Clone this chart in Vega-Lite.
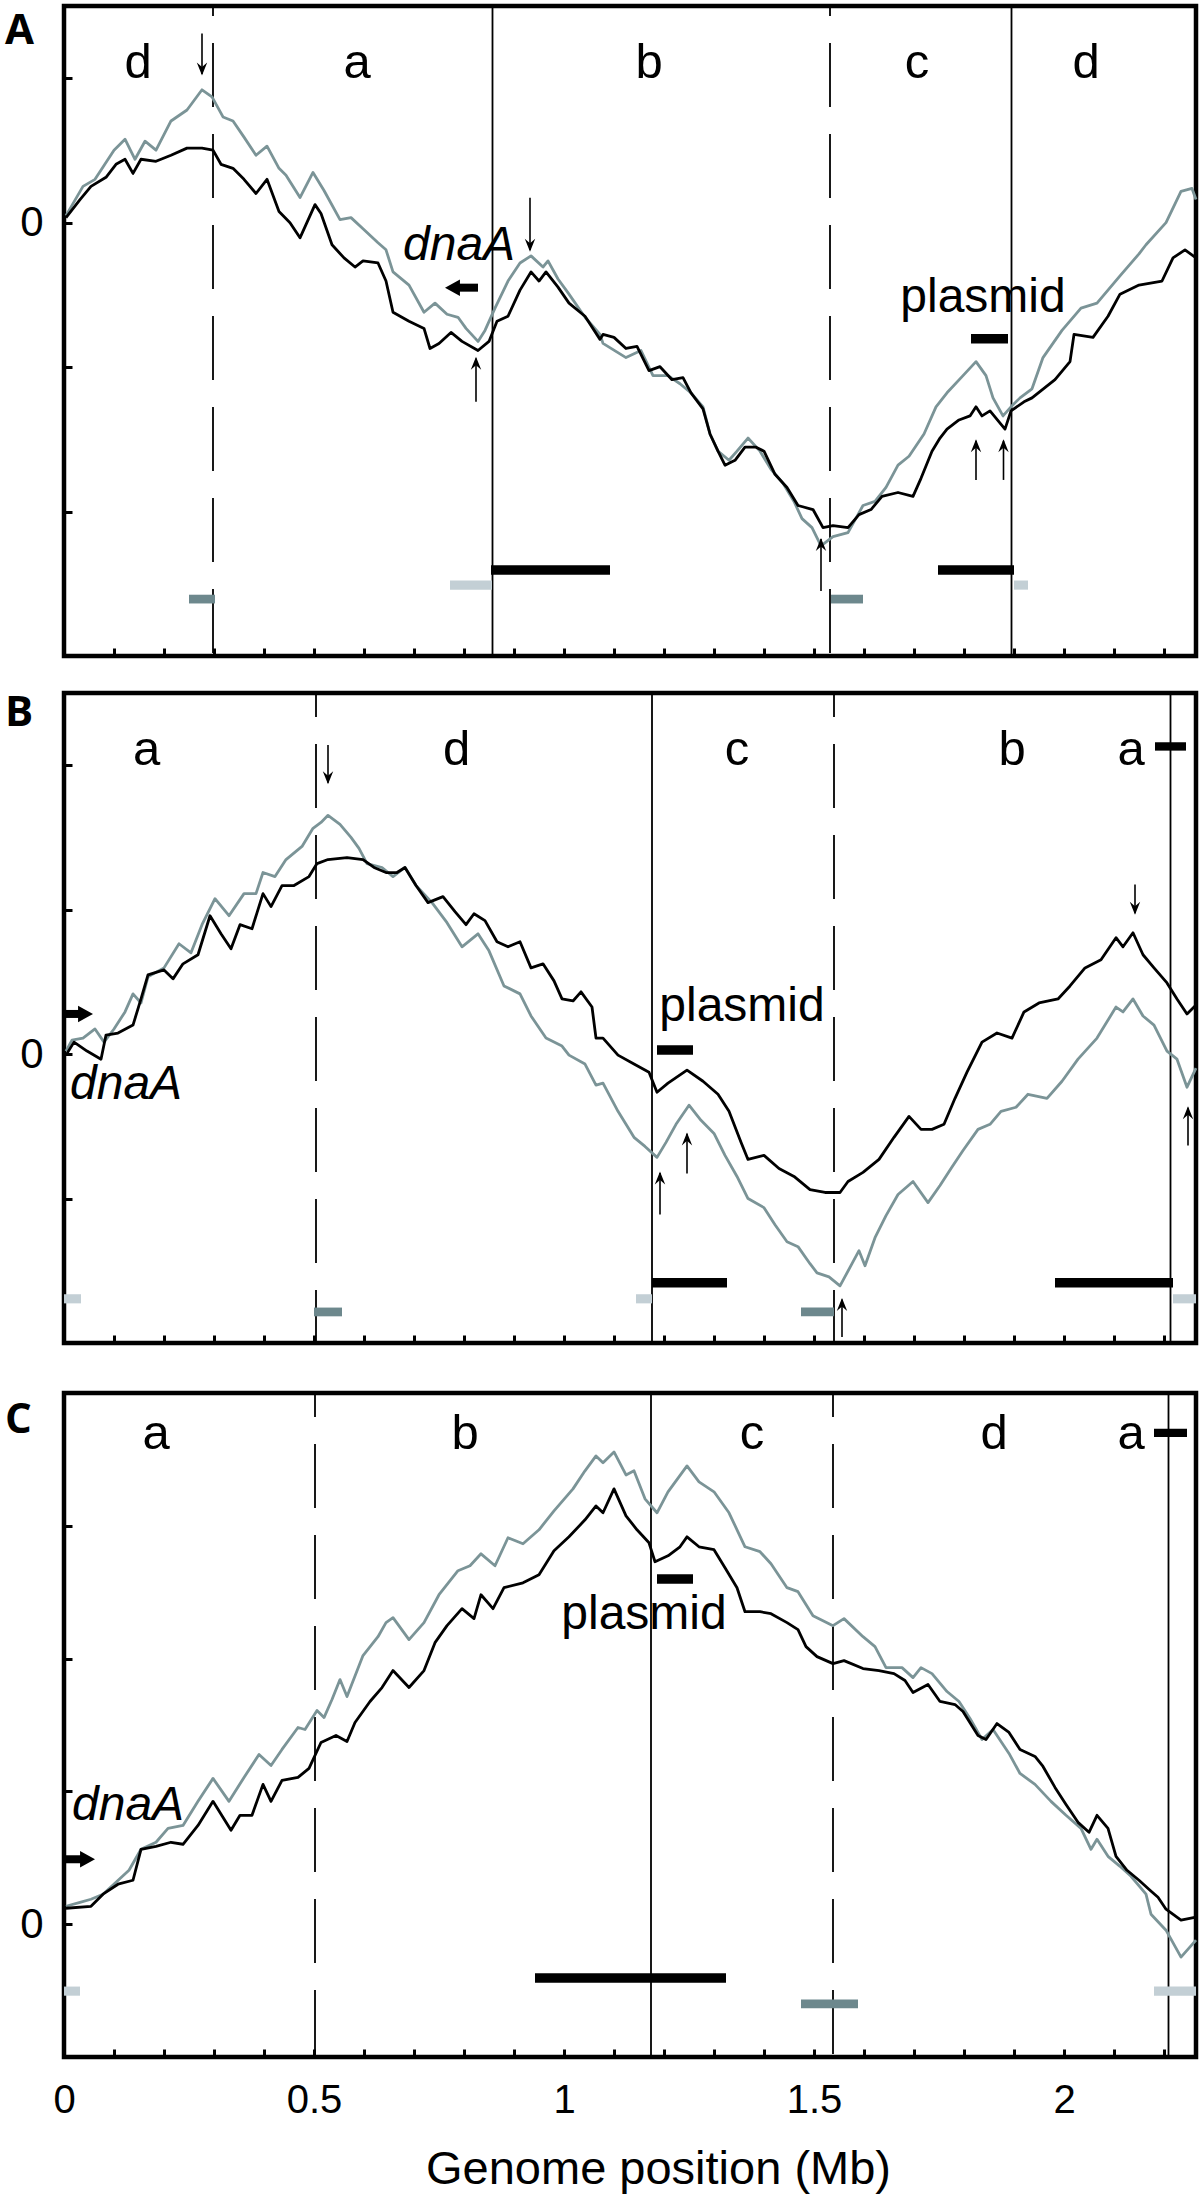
{
"$schema": "https://vega.github.io/schema/vega-lite/v6.json",
"background": "white",
"padding": {"left": 2, "top": 2, "right": 2, "bottom": 0},
"config": {
  "view": {"stroke": "#000", "strokeWidth": 4.5},
  "axis": {"domain": false, "grid": false, "tickSize": -8, "tickWidth": 3, "tickColor": "#000", "labelColor": "#000", "labelFont": "Liberation Sans", "titleFont": "Liberation Sans", "titleColor": "#000", "labelOverlap": false, "labelBound": false, "labelFlush": false},
  "text": {"font": "Liberation Sans", "color": "#000"}
},
"datasets": {
  "bounds": [
    {"p":"A","x":0.298,"y":1.5,"y2":-3,"k":"dashed"},{"p":"A","x":0.857,"y":1.5,"y2":-3,"k":"solid"},{"p":"A","x":1.532,"y":1.5,"y2":-3,"k":"dashed"},{"p":"A","x":1.895,"y":1.5,"y2":-3,"k":"solid"},
    {"p":"B","x":0.504,"y":2.5,"y2":-2,"k":"dashed"},{"p":"B","x":1.176,"y":2.5,"y2":-2,"k":"solid"},{"p":"B","x":1.54,"y":2.5,"y2":-2,"k":"dashed"},{"p":"B","x":2.213,"y":2.5,"y2":-2,"k":"solid"},
    {"p":"C","x":0.502,"y":4,"y2":-1,"k":"dashed"},{"p":"C","x":1.174,"y":4,"y2":-1,"k":"solid"},{"p":"C","x":1.538,"y":4,"y2":-1,"k":"dashed"},{"p":"C","x":2.209,"y":4,"y2":-1,"k":"solid"}
  ],
  "bars": [
    {"p":"A","x":0.25,"x2":0.302,"y":-2.606,"k":"dark"},{"p":"A","x":0.772,"x2":0.856,"y":-2.509,"k":"light"},{"p":"A","x":0.854,"x2":1.092,"y":-2.405,"k":"black"},{"p":"A","x":1.534,"x2":1.598,"y":-2.606,"k":"dark"},{"p":"A","x":1.748,"x2":1.9,"y":-2.405,"k":"black"},{"p":"A","x":1.9,"x2":1.928,"y":-2.509,"k":"light"},{"p":"A","x":1.814,"x2":1.888,"y":-0.804,"k":"black"},{"p":"A","x":0.786,"x2":0.828,"y":-0.45,"k":"shaft"},
    {"p":"B","x":0,"x2":0.034,"y":-1.694,"k":"light"},{"p":"B","x":0.5,"x2":0.556,"y":-1.785,"k":"dark"},{"p":"B","x":1.144,"x2":1.176,"y":-1.694,"k":"light"},{"p":"B","x":1.176,"x2":1.326,"y":-1.583,"k":"black"},{"p":"B","x":1.474,"x2":1.54,"y":-1.785,"k":"dark"},{"p":"B","x":1.982,"x2":2.218,"y":-1.583,"k":"black"},{"p":"B","x":2.218,"x2":2.264,"y":-1.694,"k":"light"},{"p":"B","x":1.186,"x2":1.258,"y":0.028,"k":"black"},{"p":"B","x":2.182,"x2":2.244,"y":2.13,"k":"tick"},{"p":"B","x":0.004,"x2":0.034,"y":0.278,"k":"shaft"},
    {"p":"C","x":0,"x2":0.032,"y":-0.504,"k":"light"},{"p":"C","x":0.942,"x2":1.324,"y":-0.406,"k":"black"},{"p":"C","x":1.474,"x2":1.588,"y":-0.6,"k":"dark"},{"p":"C","x":2.18,"x2":2.264,"y":-0.504,"k":"light"},{"p":"C","x":1.186,"x2":1.258,"y":2.6,"k":"black"},{"p":"C","x":2.18,"x2":2.246,"y":3.7,"k":"tick"},{"p":"C","x":0.004,"x2":0.038,"y":0.489,"k":"shaft"}
  ],
  "shafts": [
    {"p":"A","x":0.276,"y":1.31,"y2":1.03},{"p":"A","x":0.824,"y":-1.24,"y2":-0.94},{"p":"A","x":0.932,"y":0.173,"y2":-0.19},{"p":"A","x":1.514,"y":-2.55,"y2":-2.19},{"p":"A","x":1.824,"y":-1.781,"y2":-1.51},{"p":"A","x":1.879,"y":-1.781,"y2":-1.51},
    {"p":"B","x":0.528,"y":2.14,"y2":1.878},{"p":"B","x":1.192,"y":-1.111,"y2":-0.823},{"p":"B","x":1.246,"y":-0.826,"y2":-0.552},{"p":"B","x":1.556,"y":-1.958,"y2":-1.698},{"p":"B","x":2.142,"y":1.174,"y2":0.975},{"p":"B","x":2.248,"y":-0.632,"y2":-0.371}
  ],
  "heads": [
    {"p":"A","x":0.276,"y":1.019,"d":"down"},{"p":"A","x":0.824,"y":-0.929,"d":"up"},{"p":"A","x":0.932,"y":-0.201,"d":"down"},{"p":"A","x":1.514,"y":-2.183,"d":"up"},{"p":"A","x":1.824,"y":-1.5,"d":"up"},{"p":"A","x":1.879,"y":-1.5,"d":"up"},{"p":"A","x":0.762,"y":-0.45,"d":"left"},
    {"p":"B","x":0.528,"y":1.868,"d":"down"},{"p":"B","x":1.192,"y":-0.813,"d":"up"},{"p":"B","x":1.246,"y":-0.542,"d":"up"},{"p":"B","x":1.556,"y":-1.688,"d":"up"},{"p":"B","x":2.142,"y":0.965,"d":"down"},{"p":"B","x":2.248,"y":-0.361,"d":"up"},{"p":"B","x":0.058,"y":0.278,"d":"right"},
    {"p":"C","x":0.062,"y":0.489,"d":"right"}
  ],
  "texts": [
    {"p":"A","k":"region","x":0.148,"y":1.0,"t":"d"},{"p":"A","k":"region","x":0.586,"y":1.0,"t":"a"},{"p":"A","k":"region","x":1.17,"y":1.0,"t":"b"},{"p":"A","k":"region","x":1.706,"y":1.0,"t":"c"},{"p":"A","k":"region","x":2.044,"y":1.0,"t":"d"},
    {"p":"A","k":"plasmid","x":1.838,"y":-0.617,"t":"plasmid"},{"p":"A","k":"dnaA","x":0.678,"y":-0.256,"t":"dnaA"},{"p":"A","k":"letter","x":-0.118,"y":1.24,"t":"A"},
    {"p":"B","k":"region","x":0.165,"y":2.0,"t":"a"},{"p":"B","k":"region","x":0.785,"y":2.0,"t":"d"},{"p":"B","k":"region","x":1.346,"y":2.0,"t":"c"},{"p":"B","k":"region","x":1.896,"y":2.0,"t":"b"},{"p":"B","k":"region","x":2.134,"y":2.0,"t":"a"},
    {"p":"B","k":"plasmid","x":1.356,"y":0.229,"t":"plasmid"},{"p":"B","k":"dnaA","x":0.012,"y":-0.3125,"t":"dnaA"},{"p":"B","k":"letter","x":-0.118,"y":2.27,"t":"B"},
    {"p":"C","k":"region","x":0.184,"y":3.58,"t":"a"},{"p":"C","k":"region","x":0.802,"y":3.58,"t":"b"},{"p":"C","k":"region","x":1.376,"y":3.58,"t":"c"},{"p":"C","k":"region","x":1.86,"y":3.58,"t":"d"},{"p":"C","k":"region","x":2.134,"y":3.58,"t":"a"},
    {"p":"C","k":"plasmid","x":1.16,"y":2.22,"t":"plasmid"},{"p":"C","k":"dnaA","x":0.016,"y":0.787,"t":"dnaA"},{"p":"C","k":"letter","x":-0.118,"y":3.7,"t":"C"}
  ],
  "lA": [
    {"s":"g","x":0.004,"y":0.049},{"s":"g","x":0.038,"y":0.251},{"s":"g","x":0.062,"y":0.3},{"s":"g","x":0.1,"y":0.502},{"s":"g","x":0.122,"y":0.578},{"s":"g","x":0.142,"y":0.439},{"s":"g","x":0.162,"y":0.564},{"s":"g","x":0.184,"y":0.502},{"s":"g","x":0.214,"y":0.704},{"s":"g","x":0.246,"y":0.78},{"s":"g","x":0.276,"y":0.92},{"s":"g","x":0.296,"y":0.871},{"s":"g","x":0.318,"y":0.732},{"s":"g","x":0.338,"y":0.704},{"s":"g","x":0.36,"y":0.592},{"s":"g","x":0.384,"y":0.467},{"s":"g","x":0.406,"y":0.53},{"s":"g","x":0.43,"y":0.376},{"s":"g","x":0.444,"y":0.328},{"s":"g","x":0.472,"y":0.174},{"s":"g","x":0.498,"y":0.348},{"s":"g","x":0.52,"y":0.223},{"s":"g","x":0.552,"y":0.021},{"s":"g","x":0.574,"y":0.035},{"s":"g","x":0.598,"y":-0.042},{"s":"g","x":0.628,"y":-0.139},{"s":"g","x":0.644,"y":-0.188},{"s":"g","x":0.658,"y":-0.341},{"s":"g","x":0.69,"y":-0.432},{"s":"g","x":0.72,"y":-0.62},{"s":"g","x":0.742,"y":-0.557},{"s":"g","x":0.766,"y":-0.634},{"s":"g","x":0.788,"y":-0.655},{"s":"g","x":0.804,"y":-0.732},{"s":"g","x":0.828,"y":-0.822},{"s":"g","x":0.842,"y":-0.746},{"s":"g","x":0.862,"y":-0.592},{"s":"g","x":0.888,"y":-0.404},{"s":"g","x":0.912,"y":-0.279},{"s":"g","x":0.934,"y":-0.23},{"s":"g","x":0.958,"y":-0.307},{"s":"g","x":0.968,"y":-0.265},{"s":"g","x":0.988,"y":-0.39},{"s":"g","x":1.01,"y":-0.495},{"s":"g","x":1.042,"y":-0.655},{"s":"g","x":1.072,"y":-0.774},{"s":"g","x":1.078,"y":-0.836},{"s":"g","x":1.124,"y":-0.934},{"s":"g","x":1.154,"y":-0.885},{"s":"g","x":1.178,"y":-1.059},{"s":"g","x":1.208,"y":-1.059},{"s":"g","x":1.232,"y":-1.115},{"s":"g","x":1.254,"y":-1.178},{"s":"g","x":1.278,"y":-1.275},{"s":"g","x":1.292,"y":-1.463},{"s":"g","x":1.308,"y":-1.582},{"s":"g","x":1.33,"y":-1.645},{"s":"g","x":1.346,"y":-1.582},{"s":"g","x":1.368,"y":-1.491},{"s":"g","x":1.392,"y":-1.582},{"s":"g","x":1.414,"y":-1.707},{"s":"g","x":1.438,"y":-1.805},{"s":"g","x":1.46,"y":-1.93},{"s":"g","x":1.476,"y":-2.049},{"s":"g","x":1.496,"y":-2.111},{"s":"g","x":1.514,"y":-2.237},{"s":"g","x":1.538,"y":-2.174},{"s":"g","x":1.568,"y":-2.146},{"s":"g","x":1.598,"y":-1.958},{"s":"g","x":1.622,"y":-1.93},{"s":"g","x":1.644,"y":-1.833},{"s":"g","x":1.668,"y":-1.679},{"s":"g","x":1.69,"y":-1.617},{"s":"g","x":1.72,"y":-1.463},{"s":"g","x":1.744,"y":-1.275},{"s":"g","x":1.766,"y":-1.178},{"s":"g","x":1.798,"y":-1.059},{"s":"g","x":1.824,"y":-0.962},{"s":"g","x":1.844,"y":-1.059},{"s":"g","x":1.858,"y":-1.213},{"s":"g","x":1.878,"y":-1.338},{"s":"g","x":1.894,"y":-1.275},{"s":"g","x":1.912,"y":-1.213},{"s":"g","x":1.936,"y":-1.15},{"s":"g","x":1.958,"y":-0.934},{"s":"g","x":1.996,"y":-0.746},{"s":"g","x":2.034,"y":-0.592},{"s":"g","x":2.066,"y":-0.557},{"s":"g","x":2.112,"y":-0.369},{"s":"g","x":2.15,"y":-0.216},{"s":"g","x":2.164,"y":-0.153},{"s":"g","x":2.204,"y":0.0},{"s":"g","x":2.234,"y":0.216},{"s":"g","x":2.256,"y":0.237},{"s":"g","x":2.264,"y":0.16},
    {"s":"k","x":0.004,"y":0.035},{"s":"k","x":0.032,"y":0.16},{"s":"k","x":0.054,"y":0.251},{"s":"k","x":0.084,"y":0.314},{"s":"k","x":0.104,"y":0.404},{"s":"k","x":0.122,"y":0.439},{"s":"k","x":0.138,"y":0.341},{"s":"k","x":0.154,"y":0.439},{"s":"k","x":0.184,"y":0.425},{"s":"k","x":0.214,"y":0.467},{"s":"k","x":0.246,"y":0.516},{"s":"k","x":0.276,"y":0.516},{"s":"k","x":0.298,"y":0.502},{"s":"k","x":0.314,"y":0.404},{"s":"k","x":0.338,"y":0.376},{"s":"k","x":0.36,"y":0.3},{"s":"k","x":0.384,"y":0.202},{"s":"k","x":0.406,"y":0.3},{"s":"k","x":0.43,"y":0.077},{"s":"k","x":0.452,"y":0.0},{"s":"k","x":0.472,"y":-0.105},{"s":"k","x":0.502,"y":0.125},{"s":"k","x":0.514,"y":0.063},{"s":"k","x":0.536,"y":-0.153},{"s":"k","x":0.56,"y":-0.244},{"s":"k","x":0.582,"y":-0.307},{"s":"k","x":0.598,"y":-0.265},{"s":"k","x":0.628,"y":-0.279},{"s":"k","x":0.644,"y":-0.404},{"s":"k","x":0.658,"y":-0.62},{"s":"k","x":0.69,"y":-0.683},{"s":"k","x":0.72,"y":-0.732},{"s":"k","x":0.732,"y":-0.871},{"s":"k","x":0.75,"y":-0.836},{"s":"k","x":0.774,"y":-0.76},{"s":"k","x":0.796,"y":-0.822},{"s":"k","x":0.828,"y":-0.885},{"s":"k","x":0.85,"y":-0.822},{"s":"k","x":0.866,"y":-0.683},{"s":"k","x":0.888,"y":-0.648},{"s":"k","x":0.912,"y":-0.467},{"s":"k","x":0.934,"y":-0.341},{"s":"k","x":0.95,"y":-0.404},{"s":"k","x":0.964,"y":-0.341},{"s":"k","x":0.988,"y":-0.446},{"s":"k","x":1.01,"y":-0.557},{"s":"k","x":1.042,"y":-0.648},{"s":"k","x":1.072,"y":-0.808},{"s":"k","x":1.078,"y":-0.774},{"s":"k","x":1.1,"y":-0.794},{"s":"k","x":1.124,"y":-0.871},{"s":"k","x":1.146,"y":-0.857},{"s":"k","x":1.17,"y":-1.024},{"s":"k","x":1.192,"y":-0.997},{"s":"k","x":1.216,"y":-1.087},{"s":"k","x":1.238,"y":-1.073},{"s":"k","x":1.254,"y":-1.178},{"s":"k","x":1.278,"y":-1.289},{"s":"k","x":1.292,"y":-1.463},{"s":"k","x":1.308,"y":-1.582},{"s":"k","x":1.322,"y":-1.679},{"s":"k","x":1.342,"y":-1.645},{"s":"k","x":1.362,"y":-1.554},{"s":"k","x":1.384,"y":-1.554},{"s":"k","x":1.4,"y":-1.582},{"s":"k","x":1.422,"y":-1.742},{"s":"k","x":1.446,"y":-1.833},{"s":"k","x":1.468,"y":-1.958},{"s":"k","x":1.498,"y":-1.986},{"s":"k","x":1.518,"y":-2.111},{"s":"k","x":1.538,"y":-2.098},{"s":"k","x":1.568,"y":-2.111},{"s":"k","x":1.59,"y":-2.021},{"s":"k","x":1.614,"y":-1.986},{"s":"k","x":1.636,"y":-1.895},{"s":"k","x":1.668,"y":-1.868},{"s":"k","x":1.698,"y":-1.895},{"s":"k","x":1.714,"y":-1.77},{"s":"k","x":1.736,"y":-1.582},{"s":"k","x":1.752,"y":-1.491},{"s":"k","x":1.766,"y":-1.429},{"s":"k","x":1.79,"y":-1.366},{"s":"k","x":1.812,"y":-1.338},{"s":"k","x":1.824,"y":-1.275},{"s":"k","x":1.836,"y":-1.338},{"s":"k","x":1.852,"y":-1.303},{"s":"k","x":1.882,"y":-1.429},{"s":"k","x":1.894,"y":-1.303},{"s":"k","x":1.92,"y":-1.24},{"s":"k","x":1.936,"y":-1.213},{"s":"k","x":1.982,"y":-1.087},{"s":"k","x":2.012,"y":-0.962},{"s":"k","x":2.02,"y":-0.774},{"s":"k","x":2.058,"y":-0.794},{"s":"k","x":2.088,"y":-0.648},{"s":"k","x":2.112,"y":-0.495},{"s":"k","x":2.15,"y":-0.432},{"s":"k","x":2.196,"y":-0.404},{"s":"k","x":2.218,"y":-0.244},{"s":"k","x":2.242,"y":-0.188},{"s":"k","x":2.264,"y":-0.244}
  ],
  "lB": [
    {"s":"g","x":0.004,"y":0.021},{"s":"g","x":0.016,"y":0.097},{"s":"g","x":0.038,"y":0.111},{"s":"g","x":0.062,"y":0.174},{"s":"g","x":0.08,"y":0.083},{"s":"g","x":0.1,"y":0.174},{"s":"g","x":0.122,"y":0.292},{"s":"g","x":0.138,"y":0.417},{"s":"g","x":0.154,"y":0.354},{"s":"g","x":0.168,"y":0.535},{"s":"g","x":0.2,"y":0.597},{"s":"g","x":0.23,"y":0.764},{"s":"g","x":0.254,"y":0.701},{"s":"g","x":0.276,"y":0.896},{"s":"g","x":0.302,"y":1.076},{"s":"g","x":0.33,"y":0.958},{"s":"g","x":0.36,"y":1.111},{"s":"g","x":0.384,"y":1.111},{"s":"g","x":0.398,"y":1.257},{"s":"g","x":0.422,"y":1.229},{"s":"g","x":0.444,"y":1.347},{"s":"g","x":0.476,"y":1.438},{"s":"g","x":0.498,"y":1.563},{"s":"g","x":0.514,"y":1.604},{"s":"g","x":0.528,"y":1.653},{"s":"g","x":0.552,"y":1.59},{"s":"g","x":0.574,"y":1.5},{"s":"g","x":0.59,"y":1.424},{"s":"g","x":0.606,"y":1.319},{"s":"g","x":0.636,"y":1.292},{"s":"g","x":0.658,"y":1.229},{"s":"g","x":0.682,"y":1.292},{"s":"g","x":0.704,"y":1.167},{"s":"g","x":0.736,"y":1.049},{"s":"g","x":0.766,"y":0.91},{"s":"g","x":0.796,"y":0.743},{"s":"g","x":0.828,"y":0.833},{"s":"g","x":0.85,"y":0.715},{"s":"g","x":0.88,"y":0.472},{"s":"g","x":0.912,"y":0.417},{"s":"g","x":0.934,"y":0.264},{"s":"g","x":0.964,"y":0.111},{"s":"g","x":0.996,"y":0.056},{"s":"g","x":1.01,"y":-0.007},{"s":"g","x":1.042,"y":-0.069},{"s":"g","x":1.064,"y":-0.215},{"s":"g","x":1.078,"y":-0.201},{"s":"g","x":1.108,"y":-0.396},{"s":"g","x":1.14,"y":-0.576},{"s":"g","x":1.162,"y":-0.639},{"s":"g","x":1.186,"y":-0.715},{"s":"g","x":1.204,"y":-0.611},{"s":"g","x":1.224,"y":-0.486},{"s":"g","x":1.25,"y":-0.354},{"s":"g","x":1.274,"y":-0.458},{"s":"g","x":1.3,"y":-0.549},{"s":"g","x":1.322,"y":-0.701},{"s":"g","x":1.346,"y":-0.847},{"s":"g","x":1.368,"y":-1.0},{"s":"g","x":1.4,"y":-1.063},{"s":"g","x":1.422,"y":-1.181},{"s":"g","x":1.446,"y":-1.299},{"s":"g","x":1.468,"y":-1.333},{"s":"g","x":1.492,"y":-1.451},{"s":"g","x":1.506,"y":-1.514},{"s":"g","x":1.53,"y":-1.542},{"s":"g","x":1.552,"y":-1.604},{"s":"g","x":1.576,"y":-1.451},{"s":"g","x":1.59,"y":-1.361},{"s":"g","x":1.602,"y":-1.465},{"s":"g","x":1.622,"y":-1.271},{"s":"g","x":1.644,"y":-1.118},{"s":"g","x":1.668,"y":-0.972},{"s":"g","x":1.698,"y":-0.882},{"s":"g","x":1.728,"y":-1.028},{"s":"g","x":1.752,"y":-0.91},{"s":"g","x":1.774,"y":-0.792},{"s":"g","x":1.798,"y":-0.667},{"s":"g","x":1.828,"y":-0.521},{"s":"g","x":1.852,"y":-0.486},{"s":"g","x":1.874,"y":-0.396},{"s":"g","x":1.904,"y":-0.368},{"s":"g","x":1.928,"y":-0.278},{"s":"g","x":1.966,"y":-0.306},{"s":"g","x":1.996,"y":-0.188},{"s":"g","x":2.028,"y":-0.035},{"s":"g","x":2.066,"y":0.111},{"s":"g","x":2.104,"y":0.326},{"s":"g","x":2.118,"y":0.292},{"s":"g","x":2.138,"y":0.382},{"s":"g","x":2.158,"y":0.264},{"s":"g","x":2.18,"y":0.201},{"s":"g","x":2.206,"y":0.021},{"s":"g","x":2.226,"y":-0.035},{"s":"g","x":2.246,"y":-0.229},{"s":"g","x":2.264,"y":-0.097},
    {"s":"k","x":0.004,"y":-0.007},{"s":"k","x":0.02,"y":0.083},{"s":"k","x":0.046,"y":0.021},{"s":"k","x":0.074,"y":-0.035},{"s":"k","x":0.084,"y":0.132},{"s":"k","x":0.108,"y":0.146},{"s":"k","x":0.138,"y":0.201},{"s":"k","x":0.154,"y":0.382},{"s":"k","x":0.168,"y":0.549},{"s":"k","x":0.2,"y":0.583},{"s":"k","x":0.218,"y":0.521},{"s":"k","x":0.238,"y":0.625},{"s":"k","x":0.268,"y":0.688},{"s":"k","x":0.292,"y":0.958},{"s":"k","x":0.314,"y":0.833},{"s":"k","x":0.334,"y":0.729},{"s":"k","x":0.352,"y":0.896},{"s":"k","x":0.376,"y":0.868},{"s":"k","x":0.398,"y":1.111},{"s":"k","x":0.414,"y":1.021},{"s":"k","x":0.436,"y":1.167},{"s":"k","x":0.46,"y":1.167},{"s":"k","x":0.49,"y":1.229},{"s":"k","x":0.506,"y":1.319},{"s":"k","x":0.528,"y":1.347},{"s":"k","x":0.566,"y":1.361},{"s":"k","x":0.598,"y":1.347},{"s":"k","x":0.62,"y":1.292},{"s":"k","x":0.644,"y":1.257},{"s":"k","x":0.666,"y":1.257},{"s":"k","x":0.682,"y":1.292},{"s":"k","x":0.704,"y":1.167},{"s":"k","x":0.728,"y":1.049},{"s":"k","x":0.758,"y":1.09},{"s":"k","x":0.782,"y":0.986},{"s":"k","x":0.804,"y":0.896},{"s":"k","x":0.82,"y":0.972},{"s":"k","x":0.842,"y":0.924},{"s":"k","x":0.866,"y":0.778},{"s":"k","x":0.888,"y":0.743},{"s":"k","x":0.912,"y":0.778},{"s":"k","x":0.934,"y":0.597},{"s":"k","x":0.958,"y":0.625},{"s":"k","x":0.98,"y":0.507},{"s":"k","x":0.996,"y":0.382},{"s":"k","x":1.018,"y":0.368},{"s":"k","x":1.034,"y":0.431},{"s":"k","x":1.056,"y":0.326},{"s":"k","x":1.064,"y":0.111},{"s":"k","x":1.078,"y":0.111},{"s":"k","x":1.108,"y":-0.007},{"s":"k","x":1.14,"y":-0.069},{"s":"k","x":1.17,"y":-0.125},{"s":"k","x":1.186,"y":-0.264},{"s":"k","x":1.208,"y":-0.201},{"s":"k","x":1.246,"y":-0.111},{"s":"k","x":1.278,"y":-0.188},{"s":"k","x":1.308,"y":-0.278},{"s":"k","x":1.33,"y":-0.396},{"s":"k","x":1.354,"y":-0.611},{"s":"k","x":1.368,"y":-0.729},{"s":"k","x":1.4,"y":-0.701},{"s":"k","x":1.43,"y":-0.792},{"s":"k","x":1.46,"y":-0.847},{"s":"k","x":1.492,"y":-0.938},{"s":"k","x":1.522,"y":-0.958},{"s":"k","x":1.552,"y":-0.958},{"s":"k","x":1.568,"y":-0.882},{"s":"k","x":1.598,"y":-0.819},{"s":"k","x":1.63,"y":-0.729},{"s":"k","x":1.66,"y":-0.576},{"s":"k","x":1.69,"y":-0.431},{"s":"k","x":1.714,"y":-0.521},{"s":"k","x":1.736,"y":-0.521},{"s":"k","x":1.76,"y":-0.486},{"s":"k","x":1.782,"y":-0.306},{"s":"k","x":1.806,"y":-0.125},{"s":"k","x":1.836,"y":0.083},{"s":"k","x":1.866,"y":0.146},{"s":"k","x":1.896,"y":0.111},{"s":"k","x":1.92,"y":0.292},{"s":"k","x":1.95,"y":0.354},{"s":"k","x":1.988,"y":0.382},{"s":"k","x":2.012,"y":0.472},{"s":"k","x":2.042,"y":0.597},{"s":"k","x":2.074,"y":0.653},{"s":"k","x":2.104,"y":0.806},{"s":"k","x":2.118,"y":0.743},{"s":"k","x":2.138,"y":0.84},{"s":"k","x":2.158,"y":0.688},{"s":"k","x":2.18,"y":0.597},{"s":"k","x":2.206,"y":0.493},{"s":"k","x":2.226,"y":0.382},{"s":"k","x":2.246,"y":0.278},{"s":"k","x":2.264,"y":0.34}
  ],
  "lC": [
    {"s":"g","x":0.004,"y":0.135},{"s":"g","x":0.032,"y":0.165},{"s":"g","x":0.054,"y":0.188},{"s":"g","x":0.078,"y":0.226},{"s":"g","x":0.13,"y":0.406},{"s":"g","x":0.154,"y":0.564},{"s":"g","x":0.184,"y":0.617},{"s":"g","x":0.208,"y":0.722},{"s":"g","x":0.238,"y":0.744},{"s":"g","x":0.268,"y":0.925},{"s":"g","x":0.298,"y":1.098},{"s":"g","x":0.33,"y":0.925},{"s":"g","x":0.36,"y":1.105},{"s":"g","x":0.39,"y":1.278},{"s":"g","x":0.414,"y":1.195},{"s":"g","x":0.436,"y":1.316},{"s":"g","x":0.468,"y":1.481},{"s":"g","x":0.482,"y":1.466},{"s":"g","x":0.506,"y":1.609},{"s":"g","x":0.52,"y":1.556},{"s":"g","x":0.536,"y":1.692},{"s":"g","x":0.552,"y":1.842},{"s":"g","x":0.566,"y":1.714},{"s":"g","x":0.598,"y":2.023},{"s":"g","x":0.628,"y":2.165},{"s":"g","x":0.644,"y":2.271},{"s":"g","x":0.658,"y":2.308},{"s":"g","x":0.69,"y":2.143},{"s":"g","x":0.72,"y":2.271},{"s":"g","x":0.75,"y":2.481},{"s":"g","x":0.788,"y":2.662},{"s":"g","x":0.812,"y":2.699},{"s":"g","x":0.834,"y":2.789},{"s":"g","x":0.862,"y":2.699},{"s":"g","x":0.888,"y":2.91},{"s":"g","x":0.918,"y":2.865},{"s":"g","x":0.95,"y":2.97},{"s":"g","x":0.98,"y":3.113},{"s":"g","x":1.018,"y":3.278},{"s":"g","x":1.042,"y":3.414},{"s":"g","x":1.064,"y":3.526},{"s":"g","x":1.078,"y":3.474},{"s":"g","x":1.1,"y":3.556},{"s":"g","x":1.124,"y":3.383},{"s":"g","x":1.14,"y":3.414},{"s":"g","x":1.162,"y":3.203},{"s":"g","x":1.186,"y":3.098},{"s":"g","x":1.208,"y":3.256},{"s":"g","x":1.246,"y":3.451},{"s":"g","x":1.27,"y":3.331},{"s":"g","x":1.3,"y":3.256},{"s":"g","x":1.33,"y":3.098},{"s":"g","x":1.362,"y":2.842},{"s":"g","x":1.392,"y":2.805},{"s":"g","x":1.414,"y":2.714},{"s":"g","x":1.446,"y":2.534},{"s":"g","x":1.468,"y":2.504},{"s":"g","x":1.498,"y":2.323},{"s":"g","x":1.538,"y":2.248},{"s":"g","x":1.56,"y":2.301},{"s":"g","x":1.598,"y":2.165},{"s":"g","x":1.622,"y":2.09},{"s":"g","x":1.644,"y":1.932},{"s":"g","x":1.676,"y":1.932},{"s":"g","x":1.698,"y":1.857},{"s":"g","x":1.714,"y":1.932},{"s":"g","x":1.736,"y":1.887},{"s":"g","x":1.766,"y":1.752},{"s":"g","x":1.79,"y":1.677},{"s":"g","x":1.812,"y":1.549},{"s":"g","x":1.836,"y":1.391},{"s":"g","x":1.858,"y":1.466},{"s":"g","x":1.89,"y":1.286},{"s":"g","x":1.912,"y":1.135},{"s":"g","x":1.942,"y":1.053},{"s":"g","x":1.974,"y":0.925},{"s":"g","x":2.004,"y":0.82},{"s":"g","x":2.034,"y":0.722},{"s":"g","x":2.054,"y":0.564},{"s":"g","x":2.066,"y":0.639},{"s":"g","x":2.088,"y":0.511},{"s":"g","x":2.112,"y":0.436},{"s":"g","x":2.134,"y":0.361},{"s":"g","x":2.164,"y":0.226},{"s":"g","x":2.174,"y":0.075},{"s":"g","x":2.204,"y":-0.045},{"s":"g","x":2.234,"y":-0.248},{"s":"g","x":2.264,"y":-0.12},
    {"s":"k","x":0.004,"y":0.12},{"s":"k","x":0.054,"y":0.135},{"s":"k","x":0.078,"y":0.226},{"s":"k","x":0.108,"y":0.301},{"s":"k","x":0.138,"y":0.331},{"s":"k","x":0.154,"y":0.564},{"s":"k","x":0.184,"y":0.586},{"s":"k","x":0.214,"y":0.617},{"s":"k","x":0.238,"y":0.602},{"s":"k","x":0.268,"y":0.744},{"s":"k","x":0.298,"y":0.925},{"s":"k","x":0.334,"y":0.707},{"s":"k","x":0.352,"y":0.82},{"s":"k","x":0.376,"y":0.82},{"s":"k","x":0.398,"y":1.053},{"s":"k","x":0.414,"y":0.925},{"s":"k","x":0.436,"y":1.083},{"s":"k","x":0.468,"y":1.105},{"s":"k","x":0.49,"y":1.173},{"s":"k","x":0.514,"y":1.368},{"s":"k","x":0.544,"y":1.421},{"s":"k","x":0.566,"y":1.376},{"s":"k","x":0.582,"y":1.519},{"s":"k","x":0.612,"y":1.677},{"s":"k","x":0.636,"y":1.782},{"s":"k","x":0.658,"y":1.91},{"s":"k","x":0.69,"y":1.782},{"s":"k","x":0.72,"y":1.91},{"s":"k","x":0.742,"y":2.12},{"s":"k","x":0.766,"y":2.248},{"s":"k","x":0.796,"y":2.376},{"s":"k","x":0.82,"y":2.301},{"s":"k","x":0.834,"y":2.481},{"s":"k","x":0.858,"y":2.376},{"s":"k","x":0.88,"y":2.534},{"s":"k","x":0.918,"y":2.571},{"s":"k","x":0.95,"y":2.632},{"s":"k","x":0.98,"y":2.812},{"s":"k","x":1.01,"y":2.917},{"s":"k","x":1.042,"y":3.045},{"s":"k","x":1.064,"y":3.15},{"s":"k","x":1.078,"y":3.098},{"s":"k","x":1.1,"y":3.278},{"s":"k","x":1.124,"y":3.075},{"s":"k","x":1.146,"y":2.97},{"s":"k","x":1.17,"y":2.872},{"s":"k","x":1.182,"y":2.729},{"s":"k","x":1.208,"y":2.774},{"s":"k","x":1.232,"y":2.842},{"s":"k","x":1.246,"y":2.917},{"s":"k","x":1.27,"y":2.842},{"s":"k","x":1.3,"y":2.82},{"s":"k","x":1.322,"y":2.684},{"s":"k","x":1.346,"y":2.534},{"s":"k","x":1.362,"y":2.353},{"s":"k","x":1.392,"y":2.353},{"s":"k","x":1.414,"y":2.338},{"s":"k","x":1.446,"y":2.271},{"s":"k","x":1.468,"y":2.218},{"s":"k","x":1.484,"y":2.09},{"s":"k","x":1.506,"y":2.015},{"s":"k","x":1.538,"y":1.962},{"s":"k","x":1.56,"y":1.985},{"s":"k","x":1.598,"y":1.925},{"s":"k","x":1.63,"y":1.91},{"s":"k","x":1.66,"y":1.887},{"s":"k","x":1.682,"y":1.835},{"s":"k","x":1.698,"y":1.744},{"s":"k","x":1.728,"y":1.805},{"s":"k","x":1.752,"y":1.677},{"s":"k","x":1.782,"y":1.654},{"s":"k","x":1.798,"y":1.602},{"s":"k","x":1.828,"y":1.421},{"s":"k","x":1.844,"y":1.391},{"s":"k","x":1.866,"y":1.511},{"s":"k","x":1.89,"y":1.444},{"s":"k","x":1.912,"y":1.316},{"s":"k","x":1.942,"y":1.263},{"s":"k","x":1.958,"y":1.188},{"s":"k","x":1.982,"y":1.03},{"s":"k","x":2.004,"y":0.902},{"s":"k","x":2.028,"y":0.767},{"s":"k","x":2.05,"y":0.692},{"s":"k","x":2.066,"y":0.82},{"s":"k","x":2.088,"y":0.722},{"s":"k","x":2.104,"y":0.511},{"s":"k","x":2.126,"y":0.406},{"s":"k","x":2.15,"y":0.331},{"s":"k","x":2.172,"y":0.256},{"s":"k","x":2.188,"y":0.203},{"s":"k","x":2.204,"y":0.113},{"s":"k","x":2.234,"y":0.03},{"s":"k","x":2.264,"y":0.053}
  ]
},
"vconcat": [
 {"vconcat": [
  {
   "width": 1132, "height": 650,
   "resolve": {"scale": {"color": "independent", "strokeWidth": "independent"}},
   "encoding": {
     "x": {"field": "x", "type": "quantitative", "scale": {"domain": [0, 2.264], "nice": false, "zero": false}, "axis": {"values": [0,0.1,0.2,0.3,0.4,0.5,0.6,0.7,0.8,0.9,1,1.1,1.2,1.3,1.4,1.5,1.6,1.7,1.8,1.9,2,2.1,2.2], "labels": false, "title": null}},
     "y": {"field": "y", "type": "quantitative", "scale": {"domain": [-3, 1.5], "nice": false, "zero": false}, "axis": {"values": [-2,-1,0,1], "labelExpr": "datum.value == 0 ? '0' : ''", "labelFontSize": 42, "labelPadding": 29, "title": null}}
   },
   "layer": [
    {"data": {"name": "bounds"}, "transform": [{"filter": "datum.p == 'A'"}], "mark": {"type": "rule", "strokeWidth": 1.8, "color": "#000", "strokeDashOffset": 54},
     "encoding": {"y2": {"field": "y2"}, "strokeDash": {"field": "k", "type": "nominal", "scale": {"domain": ["solid", "dashed"], "range": [[1, 0], [64, 27]]}, "legend": null}}},
    {"data": {"name": "bars"}, "transform": [{"filter": "datum.p == 'A'"}], "mark": {"type": "rule"},
     "encoding": {"x2": {"field": "x2"}, "color": {"field": "k", "type": "nominal", "scale": {"domain": ["black", "light", "dark", "tick", "shaft"], "range": ["#000000", "#c3cfd5", "#6d888d", "#000000", "#000000"]}, "legend": null}, "strokeWidth": {"field": "k", "type": "nominal", "scale": {"domain": ["black", "light", "dark", "tick", "shaft"], "range": [9.5, 8, 8.5, 3.5, 5.5]}, "legend": null}}},
    {"data": {"name": "lA"}, "mark": {"type": "line", "strokeWidth": 2.8, "strokeJoin": "round"},
     "encoding": {"color": {"field": "s", "type": "nominal", "scale": {"domain": ["g", "k"], "range": ["#7b9497", "#000000"]}, "legend": null}}},
    {"data": {"name": "shafts"}, "transform": [{"filter": "datum.p == 'A'"}], "mark": {"type": "rule", "strokeWidth": 1.6, "color": "#000"}, "encoding": {"y2": {"field": "y2"}}},
    {"data": {"name": "heads"}, "transform": [{"filter": "datum.p == 'A'"}], "mark": {"type": "point", "filled": true, "color": "#000", "opacity": 1, "size": 169},
     "encoding": {"shape": {"field": "d", "type": "nominal", "scale": {"domain": ["down", "up", "left", "right"], "range": ["M-0.8,-2L0,0L0.8,-2L0,-1.3Z", "M-0.8,2L0,0L0.8,2L0,1.3Z", "M0,0L2.3,-1.27L2.3,1.27Z", "M0,0L-2.3,-1.27L-2.3,1.27Z"]}, "legend": null}}},
    {"data": {"name": "texts"}, "transform": [{"filter": "datum.p == 'A' && datum.k == 'region'"}], "mark": {"type": "text", "fontSize": 49, "align": "center", "baseline": "alphabetic"}, "encoding": {"text": {"field": "t"}}},
    {"data": {"name": "texts"}, "transform": [{"filter": "datum.p == 'A' && datum.k == 'plasmid'"}], "mark": {"type": "text", "fontSize": 48, "align": "center", "baseline": "alphabetic"}, "encoding": {"text": {"field": "t"}}},
    {"data": {"name": "texts"}, "transform": [{"filter": "datum.p == 'A' && datum.k == 'dnaA'"}], "mark": {"type": "text", "fontSize": 48, "fontStyle": "italic", "align": "left", "baseline": "alphabetic"}, "encoding": {"text": {"field": "t"}}},
    {"data": {"name": "texts"}, "transform": [{"filter": "datum.p == 'A' && datum.k == 'letter'"}], "mark": {"type": "text", "fontSize": 42, "fontWeight": "bold", "font": "Open Sans", "align": "left", "baseline": "alphabetic"}, "encoding": {"text": {"field": "t"}}}
   ]
  },
  {
   "width": 1132, "height": 650,
   "resolve": {"scale": {"color": "independent", "strokeWidth": "independent"}},
   "encoding": {
     "x": {"field": "x", "type": "quantitative", "scale": {"domain": [0, 2.264], "nice": false, "zero": false}, "axis": {"values": [0,0.1,0.2,0.3,0.4,0.5,0.6,0.7,0.8,0.9,1,1.1,1.2,1.3,1.4,1.5,1.6,1.7,1.8,1.9,2,2.1,2.2], "labels": false, "title": null}},
     "y": {"field": "y", "type": "quantitative", "scale": {"domain": [-2, 2.5], "nice": false, "zero": false}, "axis": {"values": [-1,0,1,2], "labelExpr": "datum.value == 0 ? '0' : ''", "labelFontSize": 42, "labelPadding": 29, "title": null}}
   },
   "layer": [
    {"data": {"name": "bounds"}, "transform": [{"filter": "datum.p == 'B'"}], "mark": {"type": "rule", "strokeWidth": 1.8, "color": "#000", "strokeDashOffset": 40},
     "encoding": {"y2": {"field": "y2"}, "strokeDash": {"field": "k", "type": "nominal", "scale": {"domain": ["solid", "dashed"], "range": [[1, 0], [64, 27]]}, "legend": null}}},
    {"data": {"name": "bars"}, "transform": [{"filter": "datum.p == 'B'"}], "mark": {"type": "rule"},
     "encoding": {"x2": {"field": "x2"}, "color": {"field": "k", "type": "nominal", "scale": {"domain": ["black", "light", "dark", "tick", "shaft"], "range": ["#000000", "#c3cfd5", "#6d888d", "#000000", "#000000"]}, "legend": null}, "strokeWidth": {"field": "k", "type": "nominal", "scale": {"domain": ["black", "light", "dark", "tick", "shaft"], "range": [9.5, 8, 8.5, 3.5, 5.5]}, "legend": null}}},
    {"data": {"name": "lB"}, "mark": {"type": "line", "strokeWidth": 2.8, "strokeJoin": "round"},
     "encoding": {"color": {"field": "s", "type": "nominal", "scale": {"domain": ["g", "k"], "range": ["#7b9497", "#000000"]}, "legend": null}}},
    {"data": {"name": "shafts"}, "transform": [{"filter": "datum.p == 'B'"}], "mark": {"type": "rule", "strokeWidth": 1.6, "color": "#000"}, "encoding": {"y2": {"field": "y2"}}},
    {"data": {"name": "heads"}, "transform": [{"filter": "datum.p == 'B'"}], "mark": {"type": "point", "filled": true, "color": "#000", "opacity": 1, "size": 169},
     "encoding": {"shape": {"field": "d", "type": "nominal", "scale": {"domain": ["down", "up", "left", "right"], "range": ["M-0.8,-2L0,0L0.8,-2L0,-1.3Z", "M-0.8,2L0,0L0.8,2L0,1.3Z", "M0,0L2.3,-1.27L2.3,1.27Z", "M0,0L-2.3,-1.27L-2.3,1.27Z"]}, "legend": null}}},
    {"data": {"name": "texts"}, "transform": [{"filter": "datum.p == 'B' && datum.k == 'region'"}], "mark": {"type": "text", "fontSize": 49, "align": "center", "baseline": "alphabetic"}, "encoding": {"text": {"field": "t"}}},
    {"data": {"name": "texts"}, "transform": [{"filter": "datum.p == 'B' && datum.k == 'plasmid'"}], "mark": {"type": "text", "fontSize": 48, "align": "center", "baseline": "alphabetic"}, "encoding": {"text": {"field": "t"}}},
    {"data": {"name": "texts"}, "transform": [{"filter": "datum.p == 'B' && datum.k == 'dnaA'"}], "mark": {"type": "text", "fontSize": 48, "fontStyle": "italic", "align": "left", "baseline": "alphabetic"}, "encoding": {"text": {"field": "t"}}},
    {"data": {"name": "texts"}, "transform": [{"filter": "datum.p == 'B' && datum.k == 'letter'"}], "mark": {"type": "text", "fontSize": 42, "fontWeight": "bold", "font": "Open Sans", "align": "left", "baseline": "alphabetic"}, "encoding": {"text": {"field": "t"}}}
   ]
  }
 ], "spacing": 29},
 {
   "width": 1132, "height": 664,
   "resolve": {"scale": {"color": "independent", "strokeWidth": "independent"}},
   "encoding": {
     "x": {"field": "x", "type": "quantitative", "scale": {"domain": [0, 2.264], "nice": false, "zero": false}, "axis": {"values": [0,0.1,0.2,0.3,0.4,0.5,0.6,0.7,0.8,0.9,1,1.1,1.2,1.3,1.4,1.5,1.6,1.7,1.8,1.9,2,2.1,2.2], "labels": true, "format": "~g", "labelExpr": "abs(datum.value * 2 - round(datum.value * 2)) < 0.001 ? datum.label : ''", "labelFontSize": 40, "labelPadding": 31, "title": "Genome position (Mb)", "titleFontSize": 47, "titleFontWeight": "normal", "titleX": 594, "titleY": 126, "titleBaseline": "alphabetic"}},
     "y": {"field": "y", "type": "quantitative", "scale": {"domain": [-1, 4], "nice": false, "zero": false}, "axis": {"values": [0,1,2,3], "labelExpr": "datum.value == 0 ? '0' : ''", "labelFontSize": 42, "labelPadding": 29, "title": null}}
   },
   "layer": [
    {"data": {"name": "bounds"}, "transform": [{"filter": "datum.p == 'C'"}], "mark": {"type": "rule", "strokeWidth": 1.8, "color": "#000", "strokeDashOffset": 40},
     "encoding": {"y2": {"field": "y2"}, "strokeDash": {"field": "k", "type": "nominal", "scale": {"domain": ["solid", "dashed"], "range": [[1, 0], [64, 27]]}, "legend": null}}},
    {"data": {"name": "bars"}, "transform": [{"filter": "datum.p == 'C'"}], "mark": {"type": "rule"},
     "encoding": {"x2": {"field": "x2"}, "color": {"field": "k", "type": "nominal", "scale": {"domain": ["black", "light", "dark", "tick", "shaft"], "range": ["#000000", "#c3cfd5", "#6d888d", "#000000", "#000000"]}, "legend": null}, "strokeWidth": {"field": "k", "type": "nominal", "scale": {"domain": ["black", "light", "dark", "tick", "shaft"], "range": [9.5, 8, 8.5, 3.5, 5.5]}, "legend": null}}},
    {"data": {"name": "lC"}, "mark": {"type": "line", "strokeWidth": 2.8, "strokeJoin": "round"},
     "encoding": {"color": {"field": "s", "type": "nominal", "scale": {"domain": ["g", "k"], "range": ["#7b9497", "#000000"]}, "legend": null}}},
    {"data": {"name": "heads"}, "transform": [{"filter": "datum.p == 'C'"}], "mark": {"type": "point", "filled": true, "color": "#000", "opacity": 1, "size": 169},
     "encoding": {"shape": {"field": "d", "type": "nominal", "scale": {"domain": ["down", "up", "left", "right"], "range": ["M-0.8,-2L0,0L0.8,-2L0,-1.3Z", "M-0.8,2L0,0L0.8,2L0,1.3Z", "M0,0L2.3,-1.27L2.3,1.27Z", "M0,0L-2.3,-1.27L-2.3,1.27Z"]}, "legend": null}}},
    {"data": {"name": "texts"}, "transform": [{"filter": "datum.p == 'C' && datum.k == 'region'"}], "mark": {"type": "text", "fontSize": 49, "align": "center", "baseline": "alphabetic"}, "encoding": {"text": {"field": "t"}}},
    {"data": {"name": "texts"}, "transform": [{"filter": "datum.p == 'C' && datum.k == 'plasmid'"}], "mark": {"type": "text", "fontSize": 48, "align": "center", "baseline": "alphabetic"}, "encoding": {"text": {"field": "t"}}},
    {"data": {"name": "texts"}, "transform": [{"filter": "datum.p == 'C' && datum.k == 'dnaA'"}], "mark": {"type": "text", "fontSize": 48, "fontStyle": "italic", "align": "left", "baseline": "alphabetic"}, "encoding": {"text": {"field": "t"}}},
    {"data": {"name": "texts"}, "transform": [{"filter": "datum.p == 'C' && datum.k == 'letter'"}], "mark": {"type": "text", "fontSize": 42, "fontWeight": "bold", "font": "Open Sans", "align": "left", "baseline": "alphabetic"}, "encoding": {"text": {"field": "t"}}}
   ]
 }
],
"spacing": 42
}
